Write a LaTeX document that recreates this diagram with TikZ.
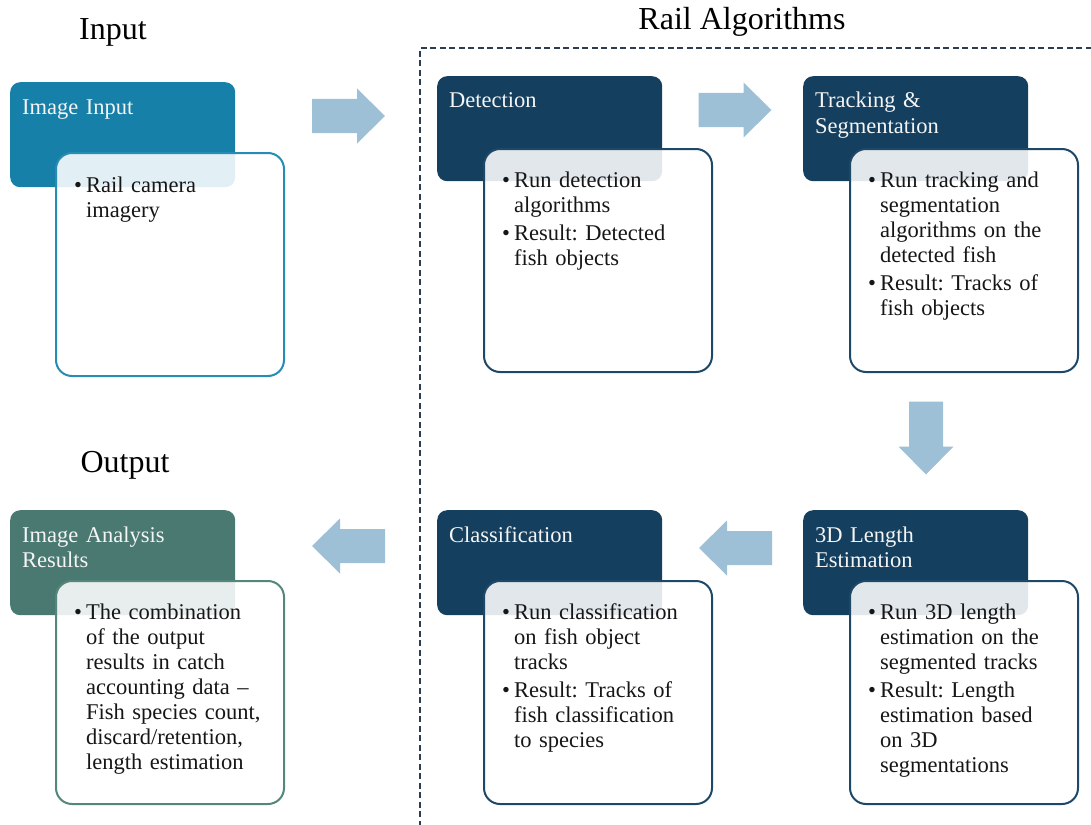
\documentclass[tikz,border=0pt]{standalone}
\usepackage{fontspec}
\setmainfont{Liberation Serif}
\usetikzlibrary{calc}
\frenchspacing

\definecolor{navy}{RGB}{20,63,94}
\definecolor{navyline}{RGB}{30,72,104}
\definecolor{inblue}{RGB}{23,128,168}
\definecolor{inline}{RGB}{38,140,180}
\definecolor{outteal}{RGB}{74,121,114}
\definecolor{outline}{RGB}{84,134,124}
\definecolor{arrowblue}{RGB}{158,192,214}
\definecolor{framegray}{RGB}{45,60,80}
\definecolor{bodyink}{RGB}{22,22,22}
\definecolor{hdrink}{RGB}{245,245,245}

% bullet item with hanging indent; continuation lines use \newline
\newcommand{\bitem}[1]{\par\hangindent=12pt\hangafter=1\noindent\makebox[12pt][l]{\textbullet}#1\par}
\newcommand{\itemgap}{\vspace{3pt}}

\tikzset{
  hdr/.style={draw=none, rounded corners=10pt, minimum width=225pt,
    minimum height=105pt, anchor=north west, inner sep=0pt},
  bodybox/.style={fill=white, fill opacity=0.88, line width=2pt,
    rounded corners=16pt, minimum width=228pt, minimum height=223pt,
    anchor=north west, inner sep=0pt},
  hdrtext/.style={anchor=base west, inner sep=0pt, text=hdrink,
    text width=215pt, align=left, font=\fontsize{22.5}{25.5}\selectfont},
  bodytext/.style={anchor=base west, inner sep=0pt, text=bodyink,
    text width=230pt, align=left, font=\fontsize{22.5}{25}\selectfont},
  sectitle/.style={inner sep=0pt, text=black, font=\fontsize{32}{36}\selectfont},
  blockarrow/.pic={\fill[arrowblue] (-36.5,-17) -- (8.5,-17) -- (8.5,-27.5)
    -- (36.5,0) -- (8.5,27.5) -- (8.5,17) -- (-36.5,17) -- cycle;}
}

\begin{document}
\begin{tikzpicture}[x=1pt, y=-1pt]
\useasboundingbox (0,0) rectangle (1091,824);

% dashed frame around the rail algorithms
\begin{scope}
  \clip (0,0) rectangle (1091,824);
  \draw[framegray, line width=1.6pt, dash pattern=on 6pt off 3.5pt]
    (1120,48) -- (420,48) -- (420,860);
\end{scope}

% section titles
\node[sectitle] (ttlIn)   at (113,32)  {Input};
\node[sectitle] (ttlRail) at (742,22)  {Rail Algorithms};
\node[sectitle] (ttlOut)  at (125,465) {Output};

% ---- Image Input ----
\node[hdr, fill=inblue] (hIn) at (10,82) {};
\node[bodybox, draw=inline] (bIn) at (55,152) {};
\node[hdrtext] (tIn) at ($(hIn.north west)+(12,32)$) {Image Input};
\node[bodytext] (xIn) at ($(bIn.north west)+(19,15)$)
  {\bitem{Rail camera\newline imagery}};

% ---- Detection ----
\node[hdr, fill=navy] (hDet) at (437,76) {};
\node[bodybox, draw=navyline] (bDet) at (483,148) {};
\node[hdrtext] (tDet) at ($(hDet.north west)+(12,32)$) {Detection};
\node[bodytext] (xDet) at ($(bDet.north west)+(19,14)$)
  {\bitem{Run detection\newline algorithms}\itemgap
   \bitem{Result: Detected\newline fish objects}};

% ---- Tracking & Segmentation ----
\node[hdr, fill=navy] (hTrk) at (803,76) {};
\node[bodybox, draw=navyline] (bTrk) at (849,148) {};
\node[hdrtext] (tTrk) at ($(hTrk.north west)+(12,32)$) {Tracking \&\\Segmentation};
\node[bodytext] (xTrk) at ($(bTrk.north west)+(19,14)$)
  {\bitem{Run tracking and\newline segmentation\newline algorithms on the\newline detected fish}\itemgap
   \bitem{Result: Tracks of\newline fish objects}};

% ---- Image Analysis Results ----
\node[hdr, fill=outteal] (hOut) at (10,510) {};
\node[bodybox, draw=outline] (bOut) at (55,580) {};
\node[hdrtext] (tOut) at ($(hOut.north west)+(12,32)$) {Image Analysis\\Results};
\node[bodytext] (xOut) at ($(bOut.north west)+(19,14)$)
  {\bitem{The combination\newline of the output\newline results in catch\newline accounting data --\newline Fish species count,\newline discard/retention,\newline length estimation}};

% ---- Classification ----
\node[hdr, fill=navy] (hCls) at (437,510) {};
\node[bodybox, draw=navyline] (bCls) at (483,580) {};
\node[hdrtext] (tCls) at ($(hCls.north west)+(12,32)$) {Classification};
\node[bodytext] (xCls) at ($(bCls.north west)+(19,14)$)
  {\bitem{Run classification\newline on fish object\newline tracks}\itemgap
   \bitem{Result: Tracks of\newline fish classification\newline to species}};

% ---- 3D Length Estimation ----
\node[hdr, fill=navy] (hLen) at (803,510) {};
\node[bodybox, draw=navyline] (bLen) at (849,580) {};
\node[hdrtext] (tLen) at ($(hLen.north west)+(12,32)$) {3D Length\\Estimation};
\node[bodytext] (xLen) at ($(bLen.north west)+(19,14)$)
  {\bitem{Run 3D length\newline estimation on the\newline segmented tracks}\itemgap
   \bitem{Result: Length\newline estimation based\newline on 3D\newline segmentations}};

% ---- flow arrows ----
\pic (aInDet)   at (348.5,116) {blockarrow};
\pic (aDetTrk)  at (735,110)   {blockarrow};
\pic[rotate=-90] (aTrkLen) at (926,438) {blockarrow};
\pic[rotate=180] (aLenCls) at (735.5,548) {blockarrow};
\pic[rotate=180] (aClsOut) at (348.5,546) {blockarrow};
\end{tikzpicture}
\end{document}
